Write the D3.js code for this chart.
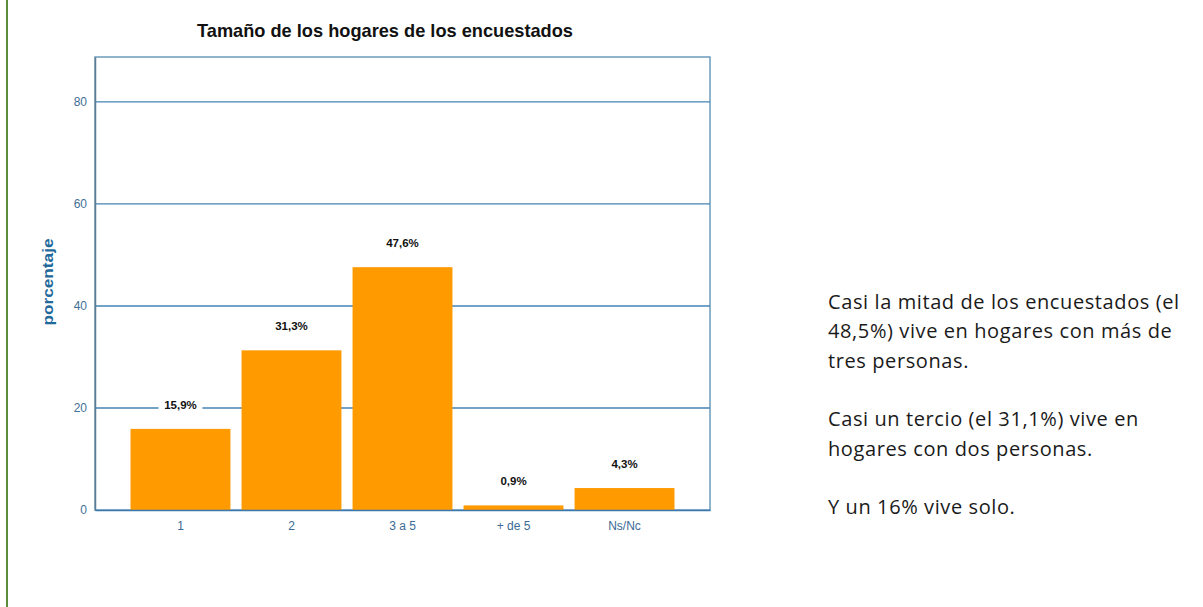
<!DOCTYPE html>
<html lang="es">
<head>
    <meta charset="UTF-8">
    <title>Tamaño de los hogares</title>
    <script src="https://d3js.org/d3.v7.min.js"></script>
    <style>
        body { margin: 0; background: #fff; }
        svg { display: block; }
    </style>
</head>
<body>
    <svg id="chart" width="1203" height="607"></svg>

    <script>
        // Data
        const categories = ["1", "2", "3 a 5", "+ de 5", "Ns/Nc"];
        const values = [15.9, 31.3, 47.6, 0.9, 4.3];
        const yTicks = [0, 20, 40, 60, 80];
        const noteLines = [
            "Casi la mitad de los encuestados (el",
            "48,5%) vive en hogares con más de",
            "tres personas.",
            "",
            "Casi un tercio (el 31,1%) vive en",
            "hogares con dos personas.",
            "",
            "Y un 16% vive solo."
        ];

        const svg = d3.select("#chart");

        // green rule on the left side of the page
        svg.append("line")
            .attr("x1", 7).attr("x2", 7)
            .attr("y1", 0).attr("y2", 607)
            .attr("stroke", "#5b8c3a")
            .attr("stroke-width", 2);

        const plot = { left: 95, right: 710, top: 57, bottom: 510 };

        const x = d3.scaleBand()
            .domain(categories)
            .range([plot.left, plot.right])
            .paddingInner(0.1)
            .paddingOuter(0.32);

        const y = d3.scaleLinear()
            .domain([0, 88.8])
            .range([plot.bottom, plot.top]);

        // title
        svg.append("text")
            .attr("x", 385).attr("y", 37)
            .attr("text-anchor", "middle")
            .attr("font-family", "Liberation Sans, Arial, sans-serif")
            .attr("font-size", 19)
            .attr("font-weight", "bold")
            .attr("fill", "#111")
            .attr("textLength", 376)
            .attr("lengthAdjust", "spacingAndGlyphs")
            .text("Tamaño de los hogares de los encuestados");

        // plot frame
        svg.append("rect")
            .attr("x", plot.left).attr("y", plot.top)
            .attr("width", plot.right - plot.left)
            .attr("height", plot.bottom - plot.top)
            .attr("fill", "none")
            .attr("stroke", "#6d9cbd")
            .attr("stroke-width", 1.5);

        // gridlines
        svg.append("g")
            .selectAll("line")
            .data(yTicks.filter(d => d > 0))
            .join("line")
            .attr("x1", plot.left).attr("x2", plot.right)
            .attr("y1", d => y(d)).attr("y2", d => y(d))
            .attr("stroke", "#4383b3")
            .attr("stroke-width", 1.4);

        // y axis
        const yAxis = svg.append("g")
            .attr("transform", `translate(${plot.left},0)`)
            .call(d3.axisLeft(y).tickValues(yTicks).tickSize(0).tickPadding(8));
        yAxis.select(".domain").attr("stroke", "#5d7b92").attr("stroke-width", 1.5);
        yAxis.selectAll("text")
            .attr("font-family", "Liberation Sans, Arial, sans-serif")
            .attr("font-size", 12)
            .attr("fill", "#3f6f95");

        // axis title
        svg.append("text")
            .attr("transform", "translate(53,282) rotate(-90)")
            .attr("text-anchor", "middle")
            .attr("font-family", "Liberation Sans, Arial, sans-serif")
            .attr("font-size", 15)
            .attr("font-weight", "bold")
            .attr("fill", "#1f6a9a")
            .attr("textLength", 87)
            .attr("lengthAdjust", "spacingAndGlyphs")
            .text("porcentaje");

        // bars
        svg.append("g")
            .selectAll("rect")
            .data(values)
            .join("rect")
            .attr("x", (d, i) => x(categories[i]))
            .attr("y", d => y(d))
            .attr("width", x.bandwidth())
            .attr("height", d => y(0) - y(d))
            .attr("fill", "#ff9a00");

        // x axis
        const xAxis = svg.append("g")
            .attr("transform", `translate(0,${plot.bottom})`)
            .call(d3.axisBottom(x).tickSize(0).tickPadding(11));
        xAxis.select(".domain").attr("stroke", "#3a78ad").attr("stroke-width", 1.5);
        xAxis.selectAll("text")
            .attr("font-family", "Liberation Sans, Arial, sans-serif")
            .attr("font-size", 12)
            .attr("fill", "#3a6a95");

        // value labels with white backing
        const fmt = d => d3.format(".1f")(d).replace(".", ",") + "%";
        const labels = svg.append("g")
            .selectAll("g")
            .data(values)
            .join("g")
            .attr("transform", (d, i) => `translate(${x(categories[i]) + x.bandwidth() / 2},${y(d) - 20})`);
        labels.append("rect")
            .attr("x", -22).attr("y", -11)
            .attr("width", 44).attr("height", 15)
            .attr("fill", "#fff");
        labels.append("text")
            .attr("text-anchor", "middle")
            .attr("font-family", "Liberation Sans, Arial, sans-serif")
            .attr("font-size", 11.5)
            .attr("font-weight", "bold")
            .attr("fill", "#111")
            .text(d => fmt(d));

        // commentary on the right
        svg.append("g")
            .selectAll("text")
            .data(noteLines)
            .join("text")
            .attr("x", 828)
            .attr("y", (d, i) => 309 + i * 29.3)
            .attr("font-family", "Open Sans, sans-serif")
            .attr("font-size", 20)
            .attr("letter-spacing", 0.6)
            .attr("fill", "#1a1a1a")
            .text(d => d);
    </script>
</body>
</html>
